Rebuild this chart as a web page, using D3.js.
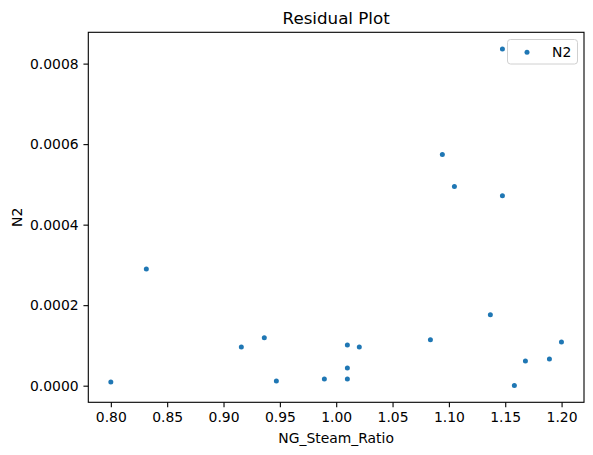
<!DOCTYPE html>
<html>
<head>
<meta charset="utf-8">
<script src="https://cdn.jsdelivr.net/npm/d3@7"></script>
<style>
  body { margin: 0; background: #fff; }
  text { font-family: "DejaVu Sans", sans-serif; fill: #000; }
</style>
</head>
<body>
<div id="chart"></div>
<script>
var width = 593
var height = 455

// values
var ratio = [0.800, 0.8315, 0.9158, 0.9362, 0.9469, 0.9895, 1.0099, 1.0099, 1.0099,
             1.0205, 1.0836, 1.0942, 1.1049, 1.1368, 1.1475, 1.1475, 1.1581, 1.1679,
             1.1892, 1.1999]
var n2 = [0.0000092, 0.000290, 0.0000963, 0.0001188, 0.0000117, 0.0000167, 0.0001013,
          0.0000441, 0.0000167, 0.0000963, 0.0001138, 0.000574, 0.000495, 0.000176,
          0.000472, 0.000836, 0.0000005, 0.0000615, 0.0000665, 0.0001088]
var xTicks = [0.80, 0.85, 0.90, 0.95, 1.00, 1.05, 1.10, 1.15, 1.20]
var yTicks = [0, 0.0002, 0.0004, 0.0006, 0.0008]

// plot box (window.top is read only, so other names)
var pLeft = 88.3, pRight = 584, pTop = 32.3, pBottom = 402.3
var blue = '#1f77b4'

var svg = d3.select('#chart').append('svg')
    .attr('width', width)
    .attr('height', height)

// matplotlib style 5% margins
var xMin = d3.min(ratio), xMax = d3.max(ratio)
var yMin = d3.min(n2), yMax = d3.max(n2)
var x = d3.scaleLinear()
    .domain([xMin - (xMax - xMin) * 0.05, xMax + (xMax - xMin) * 0.05])
    .range([pLeft, pRight])
var y = d3.scaleLinear()
    .domain([yMin - (yMax - yMin) * 0.05, yMax + (yMax - yMin) * 0.05])
    .range([pBottom, pTop])

var xAxis = d3.axisBottom(x).tickValues(xTicks).tickSize(4.86).tickPadding(4.86)
    .tickFormat(d3.format('.2f'))
var yAxis = d3.axisLeft(y).tickValues(yTicks).tickSize(4.86).tickPadding(4.86)
    .tickFormat(d3.format('.4f'))

var gx = svg.append('g').attr('transform', 'translate(0,' + pBottom + ')').call(xAxis)
var gy = svg.append('g').attr('transform', 'translate(' + pLeft + ',0)').call(yAxis)
;[gx, gy].forEach(function (g) {
    g.select('.domain').remove()
    g.selectAll('line').attr('stroke', '#000').attr('stroke-width', 1.1)
    g.selectAll('text').style('font-size', '13.9px').attr('fill', '#000')
        .style('font-family', '"DejaVu Sans", sans-serif')
})

// frame
svg.append('rect')
    .attr('x', pLeft).attr('y', pTop)
    .attr('width', pRight - pLeft).attr('height', pBottom - pTop)
    .attr('fill', 'none').attr('stroke', '#000').attr('stroke-width', 1.1)

svg.selectAll('.dot')
    .data(ratio)
    .enter().append('circle')
    .attr('class', 'dot')
    .attr('cx', function (d) { return x(d) })
    .attr('cy', function (d, i) { return y(n2[i]) })
    .attr('r', 2.5)
    .attr('fill', blue)

// legend
var leg = svg.append('g')
leg.append('rect')
    .attr('x', 507.5).attr('y', 39.5).attr('width', 70).attr('height', 24.5)
    .attr('rx', 3).attr('fill', '#fff').attr('fill-opacity', 0.8)
    .attr('stroke', '#d0d0d0').attr('stroke-width', 1)
leg.append('circle').attr('cx', 527).attr('cy', 52.3).attr('r', 2.5).attr('fill', blue)
leg.append('text').attr('x', 552).attr('y', 57.2).style('font-size', '13.9px').text('N2')

svg.append('text')
    .attr('x', (pLeft + pRight) / 2).attr('y', 23.5)
    .attr('text-anchor', 'middle').style('font-size', '16.7px')
    .text('Residual Plot')

svg.append('text')
    .attr('x', (pLeft + pRight) / 2).attr('y', 443)
    .attr('text-anchor', 'middle').style('font-size', '13.9px')
    .text('NG_Steam_Ratio')

svg.append('text')
    .attr('transform', 'translate(22,' + (pTop + pBottom) / 2 + ') rotate(-90)')
    .attr('text-anchor', 'middle').style('font-size', '13.9px')
    .text('N2')
</script>
</body>
</html>
